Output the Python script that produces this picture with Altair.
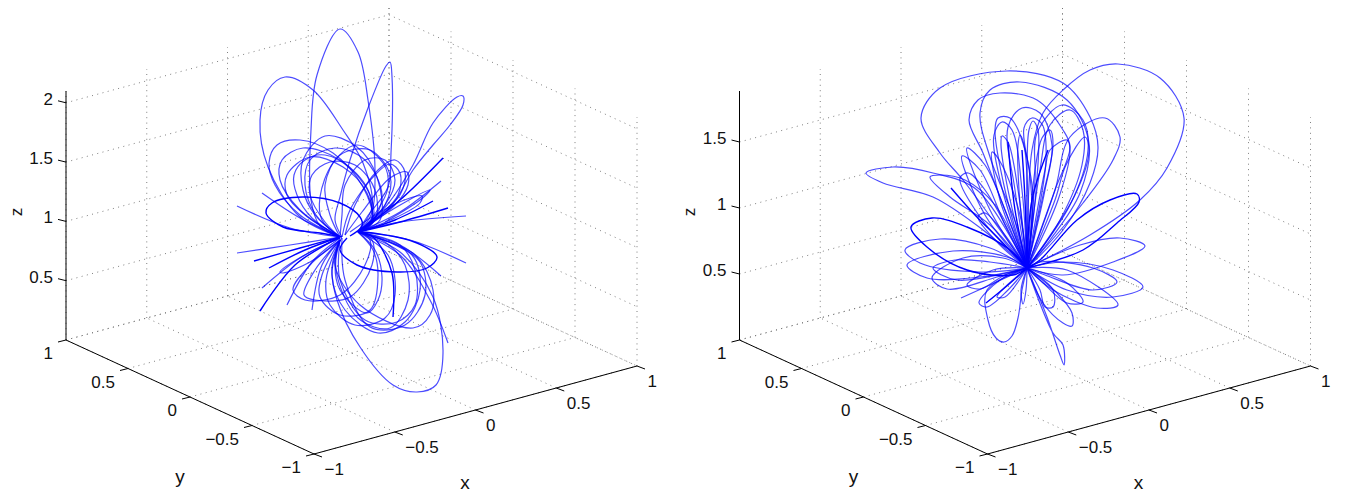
import altair as alt
import pandas as pd

# ---- axis values -------------------------------------------------------
x_ticks = [-1, -0.5, 0, 0.5, 1]
y_ticks = [-1, -0.5, 0, 0.5, 1]
left_z_ticks = [0.5, 1, 1.5, 2]
right_z_ticks = [0.5, 1, 1.5]
left_z_grid = [0, 0.5, 1, 1.5, 2]
right_z_grid = [0, 0.5, 1, 1.5]
tick_text = {-1: "\u22121", -0.5: "\u22120.5", 0: "0", 0.5: "0.5", 1: "1", 1.5: "1.5", 2: "2"}

# ---- left panel curves (projected position) ----------------------------
a_tall = [(340,237),(320,226),(311,200),(311,130),(317,75),(340,29),(358,52),(368,100),(375,170),(371,215),(358,232)]
a_big = [(340,237),(300,217),(268,167),(260,120),(268,90),(285,77),(313,90),(343,130),(363,163),(372,207),(358,232)]
a_narrow = [(342,237),(335,220),(340,197),(350,160),(368,108),(386,66),(390,62),(392,77),(391,153),(388,187),(367,217),(358,232)]
a_tip = [(358,232),(387,205),(413,165),(433,123),(457,97),(463,96),(463,105),(450,125),(433,145),(413,170),(392,205),(358,232)]
a_m1 = [(340,237),(300,215),(275,185),(269,163),(277,145),(300,140),(333,153),(363,187),(372,220),(358,232)]
a_m2 = [(340,237),(315,215),(303,190),(303,160),(325,136),(357,147),(377,177),(380,220),(358,232)]
a_m4 = [(340,237),(305,215),(287,195),(287,175),(310,157),(343,167),(367,193),(372,222),(358,232)]
a_m5 = [(340,237),(300,210),(280,180),(282,160),(303,148),(340,160),(368,190),(370,225),(358,232)]
a_m6 = [(340,237),(316,215),(305,185),(310,160),(335,148),(365,160),(382,195),(372,222),(358,232)]
a_m7 = [(340,237),(330,215),(325,185),(340,155),(370,150),(390,175),(385,205),(358,232)]
a_m8 = [(340,237),(342,215),(345,185),(365,160),(385,160),(395,180),(385,205),(358,232)]
a_m9 = [(342,237),(350,210),(375,175),(390,164),(400,173),(398,195),(380,215),(358,232)]
a_m10 = [(345,235),(362,212),(390,178),(407,172),(408,185),(395,205),(358,232)]
a_m11 = [(350,232),(380,212),(410,198),(422,196),(420,203),(395,218),(358,232)]
a_m13 = [(340,237),(312,218),(297,195),(294,175),(305,160),(325,155),(352,170),(372,200),(372,224),(358,232)]
a_m14 = [(340,237),(325,222),(310,195),(312,175),(330,162),(355,165),(375,190),(375,220),(358,232)]
a_m15 = [(345,235),(355,205),(378,170),(395,160),(405,172),(400,195),(375,218),(358,232)]
a_m16 = [(340,237),(322,220),(320,197),(333,163),(357,145),(383,163),(388,187),(372,218),(358,232)]
a_s1 = [(340,237),(300,218),(262,193)]
a_s2 = [(340,237),(290,228),(237,206)]
a_s3 = [(358,232),(400,212),(441,181)]
a_s4 = [(358,232),(400,222),(466,216)]
a_s5 = [(358,232),(395,208),(430,190),(420,200),(385,222)]
a_l1 = [(340,240),(332,275),(345,310),(378,333),(405,322),(420,290),(412,255),(358,232)]
a_l2 = [(340,240),(335,265),(360,305),(413,328),(430,315),(433,290),(415,255),(358,232)]
a_l3 = [(340,240),(326,280),(330,305),(355,325),(385,318),(395,295),(388,255),(358,232)]
a_l4 = [(340,240),(322,275),(320,297),(340,315),(370,310),(378,275),(373,250),(358,232)]
a_l5 = [(340,240),(315,270),(304,295),(315,300),(350,297),(372,265),(372,240),(358,232)]
a_l6 = [(340,240),(310,265),(293,290),(305,300),(340,295),(365,265),(370,240),(358,232)]
a_l7 = [(340,240),(340,280),(365,320),(397,322),(415,305),(415,270),(400,245),(358,232)]
a_l8 = [(342,238),(345,280),(370,327),(405,325),(425,295),(420,262),(395,245),(358,232)]
a_l9 = [(340,240),(336,270),(358,318),(390,328),(408,300),(405,265),(385,242),(358,232)]
a_l10 = [(340,238),(310,252),(280,272),(283,273),(310,262),(340,240)]
a_l11 = [(358,232),(400,255),(430,300),(448,343)]
a_l12 = [(340,237),(290,245),(237,253)]
a_l13 = [(340,238),(312,262),(287,305)]
a_l14 = [(342,238),(322,265),(312,310)]
a_l15 = [(340,238),(300,258),(262,288)]
a_l16 = [(358,232),(410,240),(466,263)]
a_l17 = [(358,232),(400,245),(441,276)]
a_l18 = [(340,240),(335,263),(340,290),(367,313),(378,300),(382,277),(375,250),(358,232)]
a_biglow = [(358,232),(400,252),(433,297),(443,353),(436,385),(417,392),(393,385),(360,347),(337,300),(332,267),(340,240)]

a_h1 = [(342,237),(320,233),(283,227),(266,213),(272,203),(303,197),(340,203),(360,217),(362,226),(350,236)]
a_h2 = [(358,232),(373,233),(417,243),(437,257),(427,268),(397,272),(357,265),(340,250),(347,238)]
a_h4 = [(358,232),(400,200),(443,158)]
a_h5 = [(358,232),(395,220),(433,201)]
a_h6 = [(358,232),(400,222),(448,208)]
a_h7 = [(340,237),(300,248),(254,261)]
a_h8 = [(340,237),(305,250),(269,268)]
a_h9 = [(340,237),(295,265),(260,311)]
a_h10 = [(393,317),(392,273),(373,237),(358,232)]

# ---- right panel curves ------------------------------------------------
b_r1 = [(1027,268),(1032,150),(1043,113),(1063,90),(1090,70),(1118,64),(1160,78),(1184,118),(1167,168),(1140,200),(1090,235),(1027,268)]
b_r2 = [(1027,268),(1000,230),(963,180),(940,153),(921,118),(940,88),(1007,71),(1063,83),(1090,117),(1098,147),(1090,183),(1063,230),(1027,268)]
b_r3 = [(1027,268),(1017,227),(990,157),(980,113),(990,90),(1020,82),(1067,100),(1089,143),(1080,193),(1050,240),(1027,268)]
b_r4 = [(1027,268),(1005,210),(983,153),(969,120),(978,100),(1000,93),(1037,100),(1063,130),(1070,147),(1055,190),(1027,268)]
b_r5 = [(1027,268),(1015,190),(1008,127),(1022,108),(1040,113),(1052,145),(1045,190),(1027,268)]
b_r6 = [(1027,268),(1005,190),(995,130),(998,118),(1010,118),(1025,150),(1032,210),(1027,268)]
b_r7 = [(1027,268),(1035,180),(1037,133),(1062,105),(1083,120),(1088,150),(1070,205),(1027,268)]
b_r8 = [(1027,268),(1040,170),(1050,125),(1070,110),(1083,130),(1082,165),(1060,220),(1027,268)]
b_r9 = [(1027,268),(1055,190),(1070,137),(1105,118),(1120,137),(1113,160),(1083,203),(1027,268)]
b_r10 = [(1027,268),(1055,200),(1066,165),(1085,137),(1089,150),(1075,195),(1027,268)]
b_r11 = [(1027,268),(1045,170),(1050,150),(1067,140),(1070,150),(1058,200),(1027,268)]
b_f1 = [(1027,268),(1008,190),(1001,145),(1002,136),(1008,142),(1018,190),(1027,268)]
b_f2 = [(1027,268),(1019,190),(1018,145),(1020,135),(1024,145),(1028,200),(1027,268)]
b_f3 = [(1027,268),(1027,170),(1029,130),(1033,121),(1038,130),(1036,190),(1027,268)]
b_f4 = [(1027,268),(1035,170),(1042,138),(1050,130),(1053,145),(1042,200),(1027,268)]
b_f5 = [(1027,268),(1033,195),(1024,128),(1032,118),(1042,124),(1046,160),(1027,268)]
b_f6 = [(1027,268),(1000,180),(994,135),(1002,122),(1012,130),(1022,190),(1027,268)]
b_t1 = [(1027,268),(983,230),(933,197),(883,183),(866,173),(893,167),(933,173),(977,190),(1027,268)]
b_t2 = [(1027,268),(990,225),(950,197),(930,177),(940,175),(965,180),(995,205),(1027,268)]
b_t3 = [(1027,268),(990,210),(967,148),(985,165),(1007,215),(1027,268)]
b_t4 = [(1027,268),(985,215),(962,156),(980,170),(1005,225),(1027,268)]
b_t5 = [(1027,268),(980,217),(960,178),(968,173),(985,190),(1027,268)]
b_t6 = [(1027,268),(1000,200),(992,152),(1002,165),(1020,215),(1027,268)]
b_t7 = [(1027,268),(1000,245),(978,217),(985,213),(1005,235),(1027,268)]
b_e1 = [(1027,268),(990,248),(940,239),(905,250),(920,263),(980,272),(1027,268)]
b_e2 = [(1027,268),(1007,257),(953,251),(907,265),(927,278),(980,277),(1027,268)]
b_e3 = [(1027,268),(1003,258),(963,258),(932,278),(947,289),(997,277),(1027,268)]
b_e4 = [(1027,268),(990,262),(955,260),(933,268),(957,280),(1027,268)]
b_e5 = [(1027,268),(993,270),(967,285),(980,289),(1005,275),(1027,268)]
b_e6 = [(1027,268),(1080,245),(1120,238),(1145,246),(1113,262),(1063,275),(1027,268)]
b_e7 = [(1027,268),(1063,262),(1113,270),(1143,287),(1113,297),(1067,290),(1027,268)]
b_e8 = [(1027,268),(1067,270),(1118,305),(1097,308),(1053,290),(1027,268)]
b_e9 = [(1027,268),(1040,262),(1093,268),(1117,282),(1093,290),(1045,275),(1027,268)]
b_e10 = [(1027,268),(1067,283),(1083,302),(1067,303),(1040,280),(1027,268)]
b_d1 = [(1027,268),(987,290),(988,320),(996,338),(1004,342),(1012,336),(1018,318),(1022,290),(1027,268)]
b_d2 = [(1027,268),(1021,290),(1023,304),(1026,290),(1027,268)]
b_d3 = [(1027,268),(1040,290),(1045,307),(1053,307),(1053,290),(1027,268)]
b_d4 = [(1027,268),(1043,303),(1063,323),(1072,326),(1072,313),(1057,293),(1027,268)]
b_d5 = [(1027,268),(1047,317),(1060,355),(1064,365),(1063,345),(1053,333),(1027,268)]
b_d6 = [(1027,268),(1000,280),(979,303),(987,307),(1008,290),(1027,268)]
b_d7 = [(1027,268),(1002,290),(997,297),(1005,297),(1027,268)]
b_s1 = [(1027,268),(990,285),(961,298)]

b_h1 = [(1027,268),(1040,260),(1077,220),(1110,200),(1137,194),(1139,202),(1117,223),(1083,250),(1027,268)]
b_h2 = [(1027,268),(1010,250),(967,227),(932,218),(911,227),(927,247),(967,270),(1013,275),(1027,268)]
b_h3 = [(1027,268),(1000,240),(975,215),(951,188)]
b_h4 = [(1027,268),(1015,210),(1008,142)]
b_h5 = [(1027,268),(1008,285),(986,303)]
b_h6 = [(1027,268),(1025,200),(1022,150)]
b_h7 = [(1027,268),(1032,200),(1048,150)]

left_light = [a_tall, a_big, a_narrow, a_tip, a_m1, a_m2, a_m4, a_m5, a_m6, a_m7, a_m8, a_m9,
              a_m10, a_m11, a_m13, a_m14, a_m15, a_m16, a_s1, a_s2, a_s3, a_s4, a_s5, a_l1, a_l2,
              a_l3, a_l4, a_l5, a_l6, a_l7, a_l8, a_l9, a_l10, a_l11, a_l12, a_l13, a_l14,
              a_l15, a_l16, a_l17, a_l18, a_biglow]
left_heavy = [a_h1, a_h2, a_h4, a_h5, a_h6, a_h7, a_h8, a_h9, a_h10]
right_light = [b_r1, b_r2, b_r3, b_r4, b_r5, b_r6, b_r7, b_r8, b_r9, b_r10, b_r11, b_f1, b_f2,
               b_f3, b_f4, b_f5, b_f6, b_t1, b_t2, b_t3, b_t4, b_t5, b_t6, b_t7, b_e1, b_e2,
               b_e3, b_e4, b_e5, b_e6, b_e7, b_e8, b_e9, b_e10, b_d1, b_d2, b_d3, b_d4, b_d5,
               b_d6, b_d7, b_s1]
right_heavy = [b_h1, b_h2, b_h3, b_h4, b_h5, b_h6, b_h7]

FONT = "Liberation Sans"
BLUE = "#0000ff"
INK = "#111111"

grid_rows, solid_rows, left_labels, right_labels, title_rows, ztitle_rows = [], [], [], [], [], []


def seg(store, a, b):
    cid = len(store)
    store.append({"u": a[0], "v": a[1], "cid": cid, "k": 0})
    store.append({"u": b[0], "v": b[1], "cid": cid, "k": 1})


def add_box(dx, z_ticks, z_grid, z_scale, z_top_px=91):
    # projection of the box onto the page
    def proj(x, y, z):
        return (dx + 314 + 161.5 * (x + 1) - 124 * (y + 1),
                454 - 44 * (x + 1) - 57 * (y + 1) - z_scale * z)
    z_top = (340 - z_top_px) / z_scale

    for z in z_grid:
        seg(grid_rows, proj(-1, 1, z), proj(1, 1, z))
        seg(grid_rows, proj(1, 1, z), proj(1, -1, z))
    for x in x_ticks:
        seg(grid_rows, proj(x, 1, 0), proj(x, 1, z_top))
        seg(grid_rows, proj(x, -1, 0), proj(x, 1, 0))
    for y in y_ticks:
        seg(grid_rows, proj(1, y, 0), proj(1, y, z_top))
        seg(grid_rows, proj(-1, y, 0), proj(1, y, 0))

    seg(solid_rows, proj(-1, 1, 0), proj(-1, 1, z_top))
    seg(solid_rows, proj(-1, -1, 0), proj(1, -1, 0))
    seg(solid_rows, proj(-1, -1, 0), proj(-1, 1, 0))
    for x in x_ticks:
        p = proj(x, -1, 0)
        seg(solid_rows, p, (p[0] + 8, p[1] + 3))
        left_labels.append({"u": p[0] + 10.5, "v": p[1] + 16, "t": tick_text[x]})
    for y in y_ticks:
        p = proj(-1, y, 0)
        seg(solid_rows, p, (p[0] - 8, p[1] + 2))
        right_labels.append({"u": p[0] - 13, "v": p[1] + 14, "t": tick_text[y]})
    for z in z_ticks:
        p = proj(-1, 1, z)
        seg(solid_rows, p, (p[0] - 8, p[1] - 2))
        right_labels.append({"u": p[0] - 13, "v": p[1] - 3, "t": tick_text[z]})
    title_rows.append({"u": dx + 465, "v": 483, "t": "x"})
    title_rows.append({"u": dx + 180, "v": 477, "t": "y"})
    ztitle_rows.append({"u": dx + 16.5, "v": 212, "t": "z"})


add_box(0, left_z_ticks, left_z_grid, 118.6)
add_box(673.5, right_z_ticks, right_z_grid, 132.0)


def curves_frame(curves):
    rows = []
    for cid, pts in enumerate(curves):
        for k, (u, v) in enumerate(pts):
            rows.append({"u": u, "v": v, "cid": cid, "k": k})
    return pd.DataFrame(rows)


W, H = 1331, 484
xs = alt.Scale(domain=[8, 8 + W], range=[0, W], nice=False, zero=False)
ys = alt.Scale(domain=[8, 8 + H], range=[0, H], nice=False, zero=False)
X = alt.X("u:Q", scale=xs, axis=None)
Y = alt.Y("v:Q", scale=ys, axis=None)

grid_l = alt.Chart(pd.DataFrame(grid_rows)).mark_line(
    color="#707070", strokeWidth=0.9, strokeDash=[1, 4.4]
).encode(x=X, y=Y, detail="cid:N", order="k:Q")
solid_l = alt.Chart(pd.DataFrame(solid_rows)).mark_line(
    color="#000000", strokeWidth=1.0
).encode(x=X, y=Y, detail="cid:N", order="k:Q")
light_l = alt.Chart(curves_frame(left_light + right_light)).mark_line(
    color=BLUE, strokeWidth=1.2, opacity=0.7, interpolate="catmull-rom"
).encode(x=X, y=Y, detail="cid:N", order="k:Q")
heavy_l = alt.Chart(curves_frame(left_heavy + right_heavy)).mark_line(
    color=BLUE, strokeWidth=1.4, interpolate="catmull-rom"
).encode(x=X, y=Y, detail="cid:N", order="k:Q")
tick_a = alt.Chart(pd.DataFrame(left_labels)).mark_text(
    font=FONT, fontSize=17, color=INK, align="left", baseline="middle"
).encode(x=X, y=Y, text="t:N")
tick_b = alt.Chart(pd.DataFrame(right_labels)).mark_text(
    font=FONT, fontSize=17, color=INK, align="right", baseline="middle"
).encode(x=X, y=Y, text="t:N")
title_l = alt.Chart(pd.DataFrame(title_rows)).mark_text(
    font=FONT, fontSize=19, color=INK, align="center", baseline="middle"
).encode(x=X, y=Y, text="t:N")
ztitle_l = alt.Chart(pd.DataFrame(ztitle_rows)).mark_text(
    font=FONT, fontSize=17, color=INK, align="center", baseline="middle", angle=270
).encode(x=X, y=Y, text="t:N")

chart = alt.layer(grid_l, solid_l, light_l, heavy_l, tick_a, tick_b, title_l, ztitle_l).properties(
    width=W, height=H, padding=0, autosize=alt.AutoSizeParams(type="none")
).configure_view(stroke=None)
chart.save("out.html", embed_options={"renderer": "svg", "actions": False})
